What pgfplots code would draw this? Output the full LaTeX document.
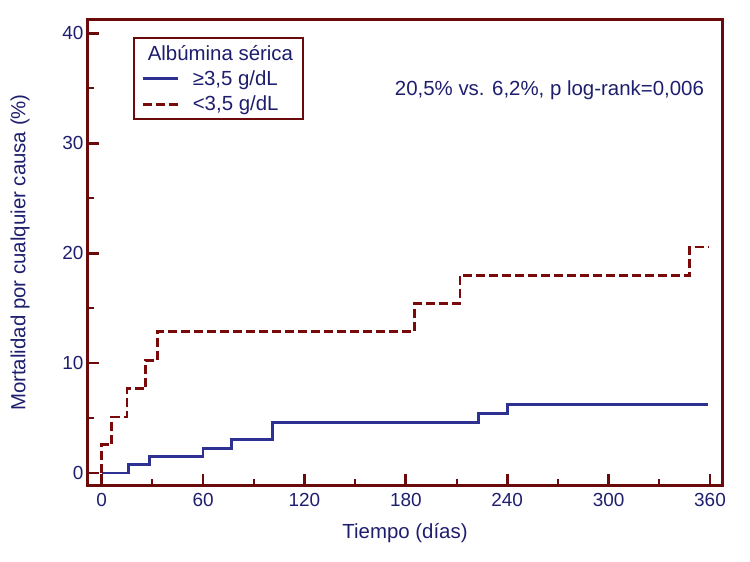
\documentclass[border=0pt]{standalone}
\usepackage{pgfplots}
\pgfplotsset{compat=1.18}
\usepackage{fontspec}
\setmainfont{Liberation Sans}
\definecolor{axred}{HTML}{6B0A0A}
\definecolor{txtblue}{HTML}{1E1E6E}
\definecolor{lineblue}{HTML}{2E3192}
\definecolor{linered}{HTML}{7A0A0A}
\newcommand{\bigf}{\fontsize{20.5}{24}\selectfont}
\begin{document}
\begin{tikzpicture}
\path[use as bounding box] (-88bp,-77bp) rectangle (662bp,485bp);
\begin{axis}[
  scale only axis,
  width=634bp, height=465bp,
  xmin=-8.1, xmax=367.1,
  ymin=-1.09, ymax=41.2,
  xtick={0,60,...,360},
  ytick={0,10,...,40},
  minor x tick num=1,
  minor y tick num=1,
  tick align=inside,
  xtick pos=bottom, ytick pos=left,
  major tick length=11bp,
  minor tick length=6bp,
  tick style={axred, line width=2.8bp},
  major tick style={axred, line width=2.8bp},
  minor tick style={axred, line width=2bp},
  axis line style={axred, line width=3bp},
  /pgf/number format/assume math mode=true,
  ticklabel style={font=\fontsize{19}{22}\selectfont, text=txtblue},
  xticklabel style={yshift=-5bp},
  yticklabel style={xshift=-1bp},
  xlabel={Tiempo (días)},
  ylabel={Mortalidad por cualquier causa (\%)},
  label style={font=\bigf, text=txtblue},
  xlabel style={at={(rel axis cs:0.5,0)}, anchor=center, yshift=-48bp},
  ylabel style={at={(rel axis cs:0,0.5)}, anchor=center, yshift=68bp},
  legend cell align=left,
  legend style={at={(rel axis cs:0.071,0.963)}, anchor=north west,
    draw=axred, line width=2bp, font=\bigf,
    text=txtblue, inner xsep=8bp, inner ysep=5bp, row sep=5bp,
    /tikz/every odd column/.append style={column sep=11bp}},
  legend image code/.code={\draw[#1] (0bp,0bp) -- (35bp,0bp);},
]
\addlegendimage{empty legend}
\addlegendentry{\hspace{-45bp}Albúmina sérica}
\addplot[const plot, lineblue, line width=2.8bp] coordinates {
  (0,0) (16,0.75) (28.5,1.5) (60,2.25) (77,3.05) (101,4.57) (223,5.4) (240,6.2) (359,6.2)
};
\addlegendentry{≥3,5 g/dL}
\addplot[const plot, linered, line width=2.8bp, dash pattern=on 9bp off 4bp] coordinates {
  (0,0) (0,2.56) (6,5.1) (15,7.65) (26,10.25) (33,12.85) (185,15.4) (212,17.95) (348,20.55) (359,20.55)
};
\addlegendentry{<3,5 g/dL}
\node[anchor=east, text=txtblue, font=\bigf] at (axis cs:358.5,34.8) {20,5\% vs. 6,2\%, p log-rank=0,006};
\end{axis}
\end{tikzpicture}
\end{document}
